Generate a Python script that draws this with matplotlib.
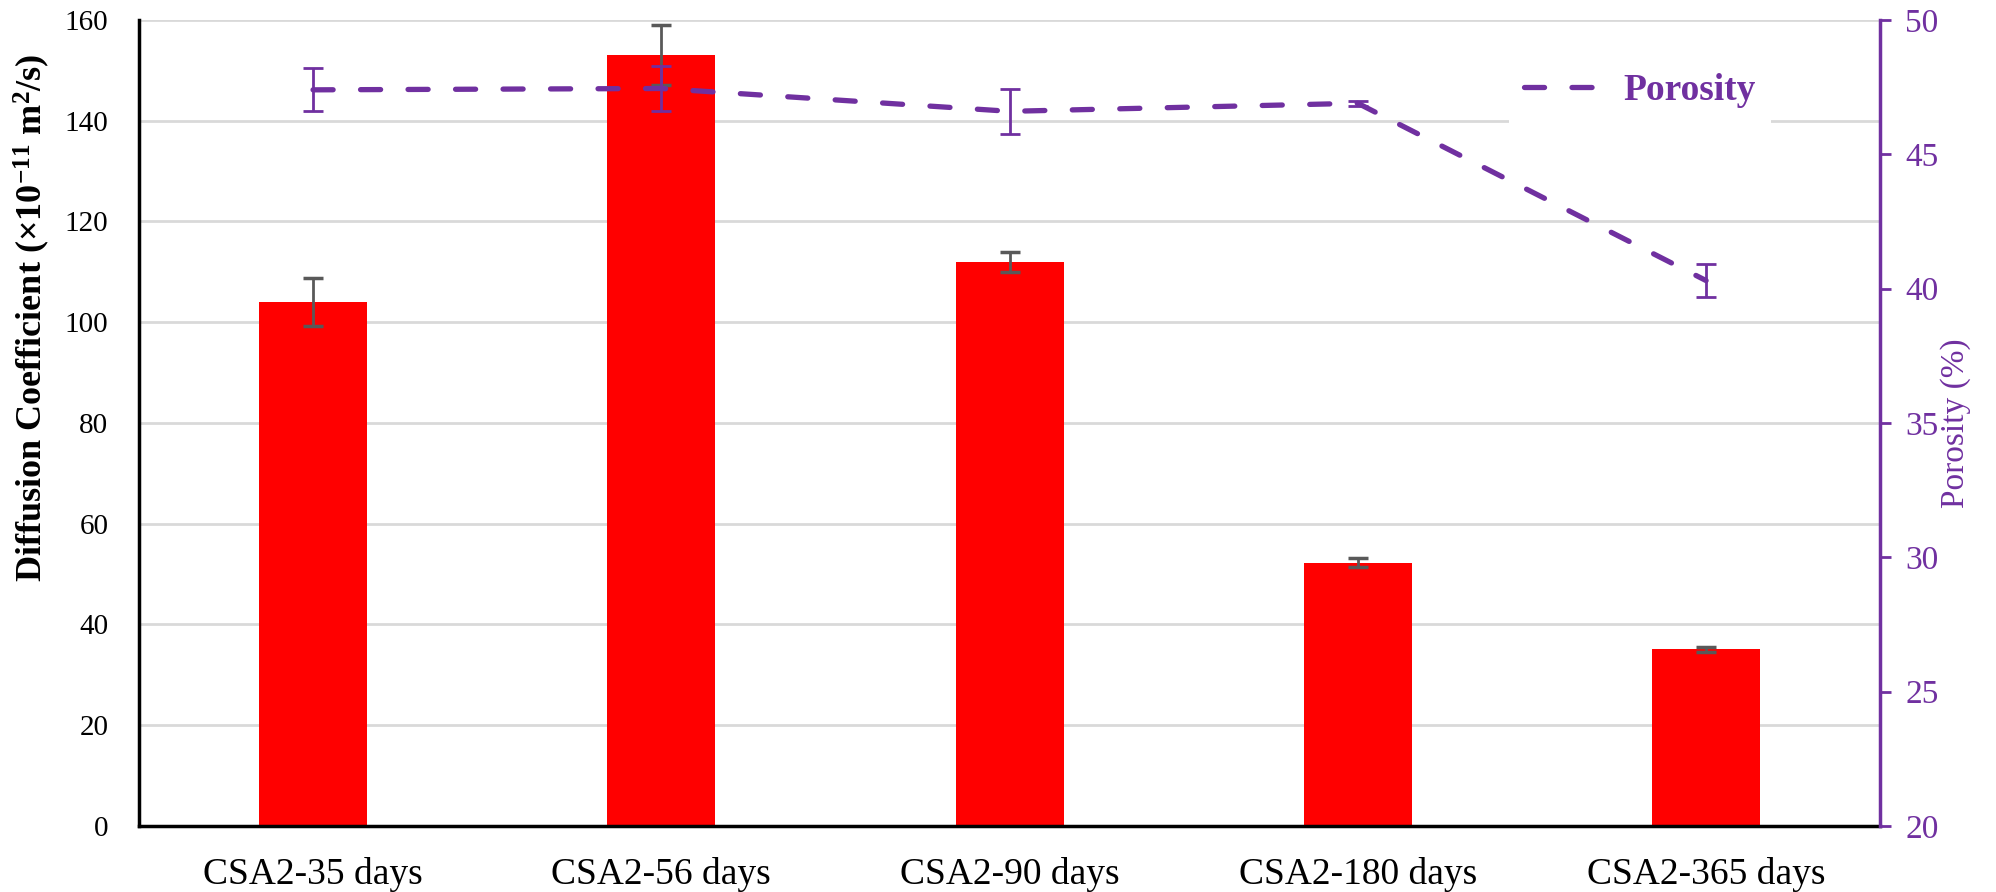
import matplotlib
matplotlib.use("Agg")
import matplotlib.pyplot as plt
import numpy as np

plt.rcParams['font.family'] = ['Liberation Serif', 'DejaVu Serif']
plt.rcParams['mathtext.default'] = 'regular'

# data
samples = ['CSA2-35 days', 'CSA2-56 days', 'CSA2-90 days', 'CSA2-180 days', 'CSA2-365 days']
diff_coef = [104, 153, 112, 52.3, 35.1]
diff_err = [4.7, 6.0, 2.0, 0.85, 0.5]
porosity = [47.4, 47.45, 46.6, 46.9, 40.3]
porosity_err = [0.8, 0.85, 0.83, 0.1, 0.6]

purple = '#7030A0'
x = np.arange(len(samples))

fig = plt.figure(figsize=(19.96, 8.92), dpi=100)
ax1 = fig.add_axes([0.0696, 0.074, 0.8724, 0.9036])

ax1.bar(x, diff_coef, width=0.31, color='#FF0000', zorder=2,
        yerr=diff_err, error_kw=dict(ecolor='#595959', elinewidth=2, capsize=7, capthick=2.5))
ax1.set_ylim(0, 160)
ax1.set_xlim(-0.5, len(samples) - 0.5)
ax1.set_yticks(np.arange(0, 161, 20))
ax1.yaxis.grid(True, color='#D9D9D9', linewidth=2)
ax1.set_axisbelow(True)
ax1.set_xticks(x)
ax1.set_xticklabels(samples, fontsize=27)
ax1.tick_params(axis='y', labelsize=21, length=0, pad=22)
ax1.tick_params(axis='x', length=0, pad=22)
ax1.set_ylabel('Diffusion Coefficient (×10$^{-11}$ m$^{2}$/s)', fontsize=26, fontweight='bold')
# the label sits above the middle of the axis
ax1.yaxis.set_label_coords(-0.05, 0.63)
for s in ['top', 'right']:
    ax1.spines[s].set_visible(False)
ax1.spines['left'].set_linewidth(2.5)
ax1.spines['bottom'].set_linewidth(2.5)

# porosity on the right axis
ax2 = ax1.twinx()
ax2.errorbar(x, porosity, yerr=porosity_err, color=purple, linewidth=3.8, ls=(0, (3.8, 5.2)),
             dash_capstyle='round', ecolor=purple, elinewidth=2, capsize=7, capthick=2,
             label='Porosity', zorder=3)
ax2.set_ylim(20, 50)
ax2.set_yticks(np.arange(20, 51, 5))
ax2.tick_params(axis='y', colors=purple, labelsize=24, width=2, length=8, pad=10)
ax2.set_ylabel('Porosity (%)', color=purple, fontsize=24, labelpad=1)
for s in ['top', 'left', 'bottom']:
    ax2.spines[s].set_visible(False)
ax2.spines['right'].set_color(purple)
ax2.spines['right'].set_linewidth(2.5)

handles, labels = ax2.get_legend_handles_labels()
leg = ax2.legend([handles[0][0]], labels, loc='center', bbox_to_anchor=(0.862, 0.912),
                 frameon=True, framealpha=1, edgecolor='none', fancybox=False,
                 prop={'weight': 'bold', 'size': 27}, handlelength=1.8, handletextpad=0.85)
for t in leg.get_texts():
    t.set_color(purple)

fig.savefig('out.png', dpi=100)
